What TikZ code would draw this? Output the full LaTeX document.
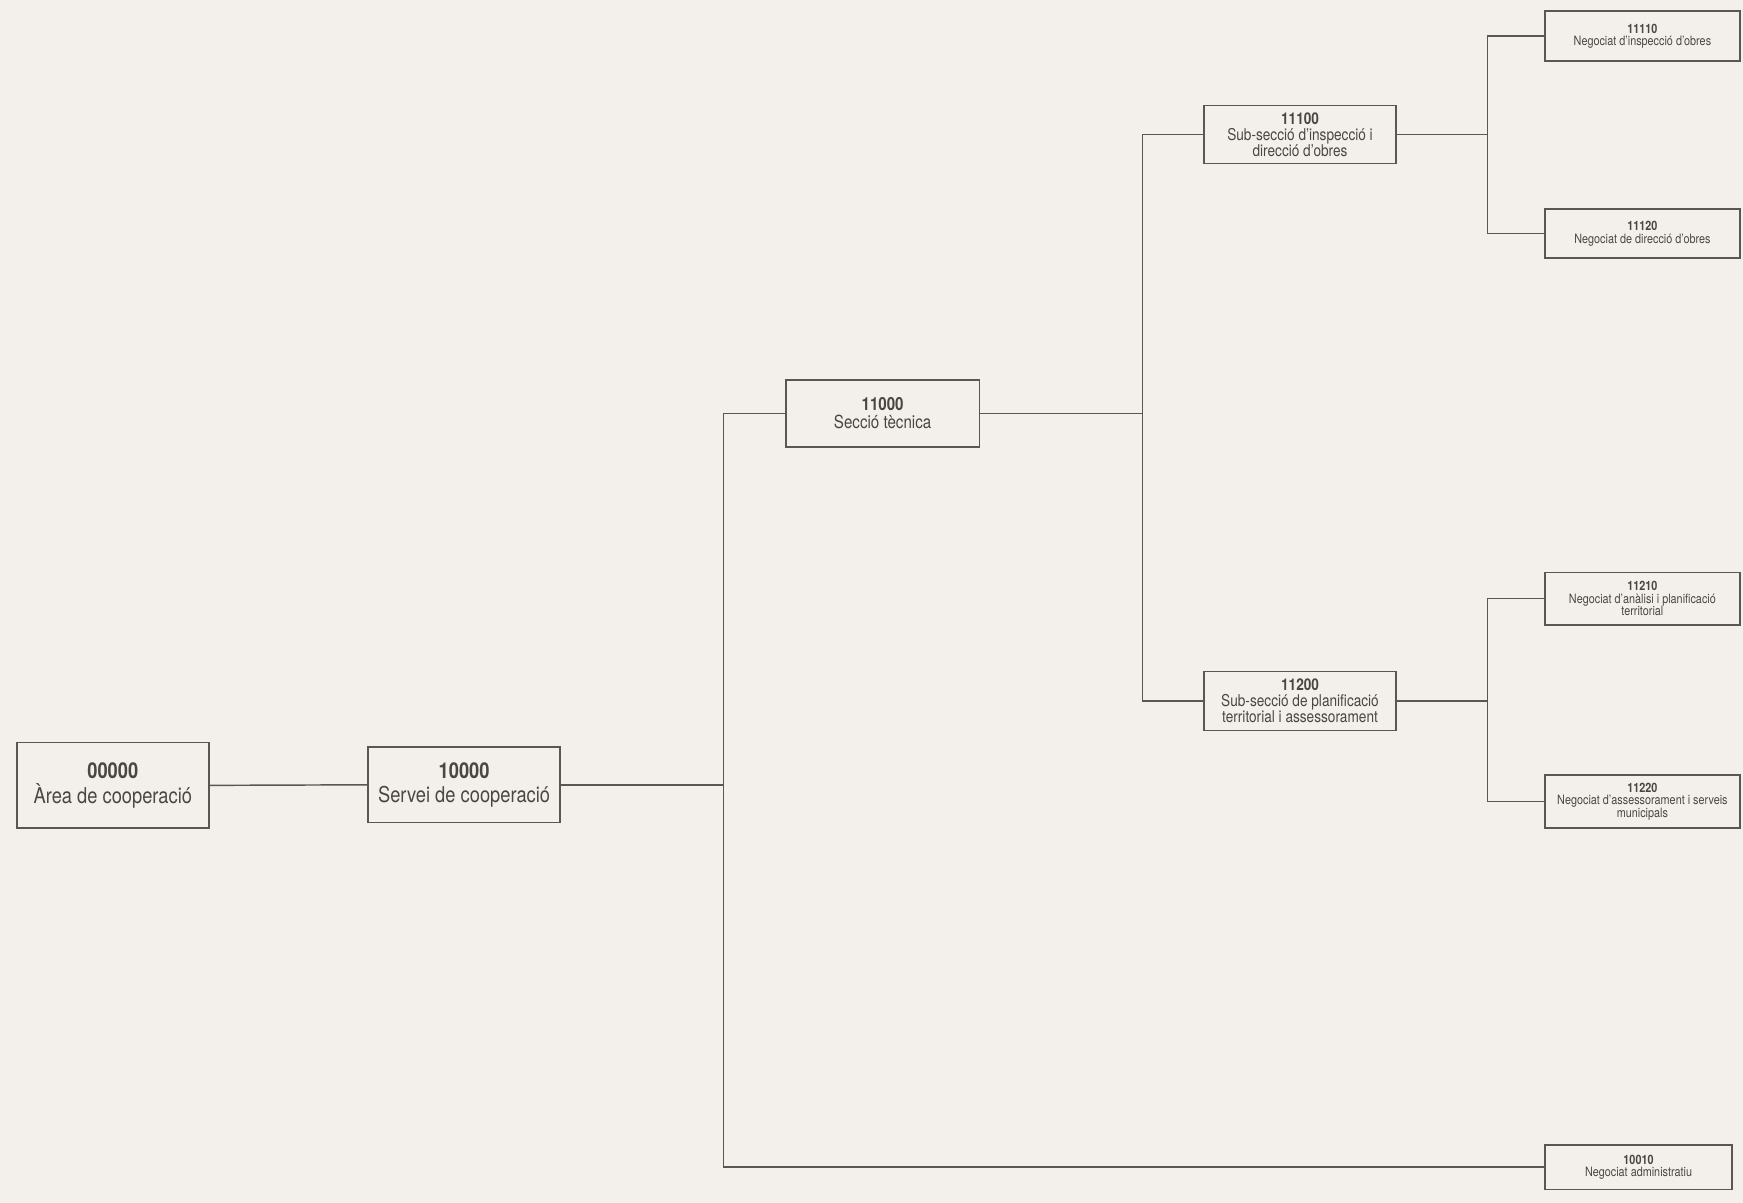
\documentclass[tikz,border=0pt]{standalone}
\usepackage{fontspec}
\setmainfont[FakeStretch=0.84]{TeX Gyre Heros}
\definecolor{bg}{HTML}{F3EFEB}
\definecolor{ln}{HTML}{5A5650}
\definecolor{tx}{HTML}{4A4642}
\begin{document}
\begin{tikzpicture}[x=0.5pt,y=-0.5pt,
  box/.style={draw=ln,line width=0.75pt,fill=bg,text=tx,align=center,inner sep=1pt,anchor=center},
  lv1/.style={box,font=\fontsize{9.8}{11}\selectfont},
  lv2/.style={box,font=\fontsize{8.1}{8.2}\selectfont},
  lv3/.style={box,font=\fontsize{7.3}{7.1}\selectfont},
  lv4/.style={box,font=\fontsize{5.8}{5.7}\selectfont},
  conn/.style={draw=ln,line width=0.65pt}]
\fill[bg] (0,0) rectangle (1568,1082);
\useasboundingbox (0,0) rectangle (1568,1082);

\node[lv1,minimum width=86.5pt,minimum height=38.5pt] (n00000) at (101.5,706.5) {\textbf{00000}\\Àrea de cooperació};
\node[lv1,minimum width=86.5pt,minimum height=34pt] (n10000) at (417.5,706) {\textbf{10000}\\Servei de cooperació};
\node[lv2,minimum width=87pt,minimum height=30pt] (n11000) at (794,372) {\textbf{11000}\\Secció tècnica};
\node[lv3,minimum width=86.5pt,minimum height=26pt] (n11100) at (1169.5,121) {\textbf{11100}\\Sub-secció d'inspecció i\\direcció d'obres};
\node[lv3,minimum width=86.5pt,minimum height=26.5pt] (n11200) at (1169.5,630.5) {\textbf{11200}\\Sub-secció de planificació\\territorial i assessorament};
\node[lv4,minimum width=87.5pt,minimum height=22.5pt] (n11110) at (1477.5,32.5) {\textbf{11110}\\Negociat d'inspecció d'obres};
\node[lv4,minimum width=87.5pt,minimum height=22pt] (n11120) at (1477.5,210) {\textbf{11120}\\Negociat de direcció d'obres};
\node[lv4,minimum width=87.5pt,minimum height=23.5pt] (n11210) at (1477.5,538.5) {\textbf{11210}\\Negociat d'anàlisi i planificació\\territorial};
\node[lv4,minimum width=87.5pt,minimum height=24pt] (n11220) at (1477.5,721) {\textbf{11220}\\Negociat d'assessorament i serveis\\municipals};
\node[lv4,minimum width=84pt,minimum height=20pt] (n10010) at (1474,1050) {\textbf{10010}\\Negociat administratiu};

\coordinate (j1) at (651,706);
\coordinate (j2) at (1028,372);
\coordinate (j3) at (1338,121);
\coordinate (j4) at (1338,630.5);

\draw[conn] (n00000.east) -- (n10000.west);
\draw[conn] (n10000.east) -- (j1);
\draw[conn] (n11000.west) -| (j1);
\draw[conn] (n10010.west) -| (j1);
\draw[conn] (n11000.east) -- (j2);
\draw[conn] (n11100.west) -| (j2);
\draw[conn] (n11200.west) -| (j2);
\draw[conn] (n11100.east) -- (j3);
\draw[conn] (n11110.west) -| (j3);
\draw[conn] (n11120.west) -| (j3);
\draw[conn] (n11200.east) -- (j4);
\draw[conn] (n11210.west) -| (j4);
\draw[conn] (n11220.west) -| (j4);
\end{tikzpicture}
\end{document}
